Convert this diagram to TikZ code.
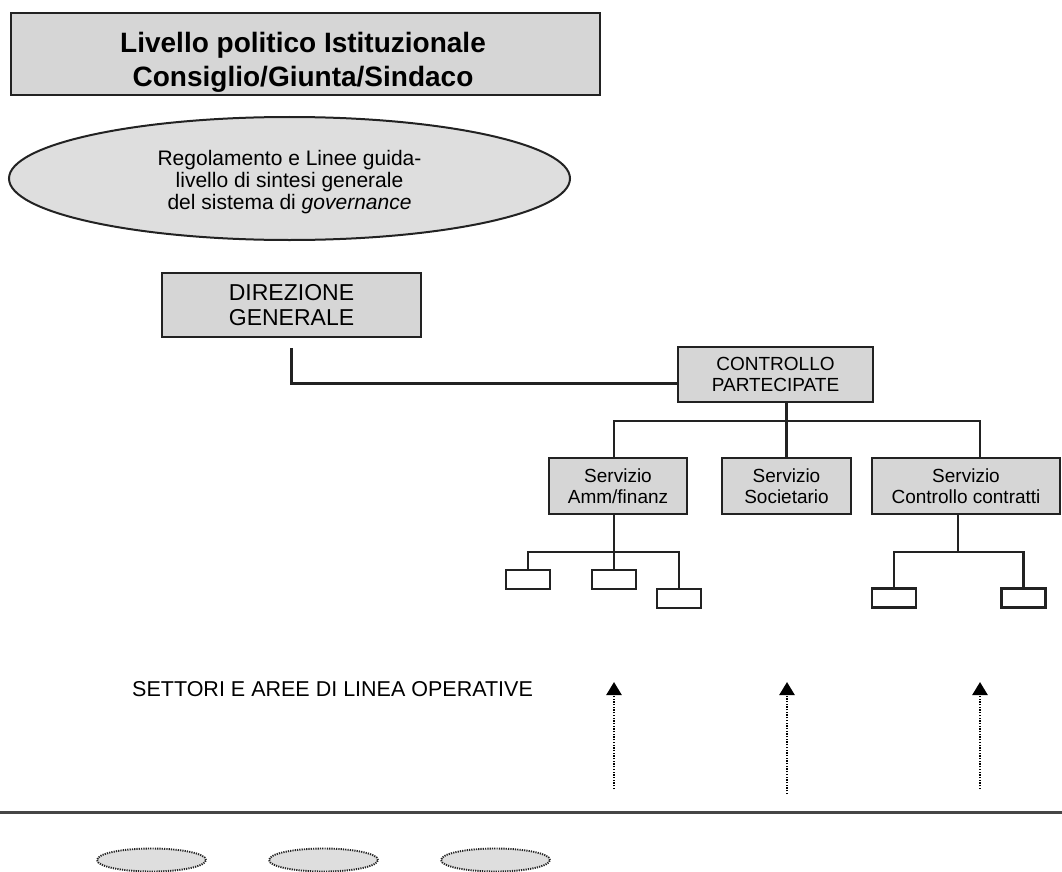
\documentclass[tikz,border=0pt]{standalone}
\usepackage{fontspec}
\setmainfont{Liberation Sans}
\usetikzlibrary{shapes.geometric,arrows.meta}
\definecolor{boxfill}{RGB}{214,214,214}
\definecolor{poolfill}{RGB}{222,222,222}
\definecolor{ink}{RGB}{34,34,34}
\definecolor{rule}{RGB}{70,70,70}
\begin{document}
\begin{tikzpicture}[x=1pt,y=-1pt,
  box/.style={draw=ink, line width=2.4pt, fill=boxfill, inner sep=0pt, align=center},
  leaf/.style={draw=ink, line width=2.2pt, fill=white, inner sep=0pt,
               minimum width=44pt, minimum height=19pt},
  wire/.style={draw=ink, line width=2.3pt},
  feed/.style={draw=black, line width=2.4pt, dash pattern=on 1.3pt off 1.4pt,
               -{Triangle[width=15pt,length=13pt]}},
  pool/.style={ellipse, draw=ink, line width=1.9pt, dash pattern=on 1.2pt off 1.1pt,
               fill=poolfill, inner sep=0pt, minimum width=109pt, minimum height=23pt},
  srvfont/.style={font=\fontsize{19pt}{21pt}\selectfont},
  ]
\useasboundingbox (0,0) rectangle (1062,872);

% political level
\node[box, minimum width=589pt, minimum height=82pt] (top) at (305.5,54) {};
\node[align=center, inner sep=0pt, font=\fontsize{28pt}{34pt}\selectfont\bfseries]
  (toptext) at (303,62) {Livello politico Istituzionale\\Consiglio/Giunta/Sindaco};

% governance guidelines
\node[ellipse, draw=ink, line width=2pt, fill=poolfill, inner sep=0pt,
      minimum width=561pt, minimum height=123pt] (guide) at (289.5,178.5) {};
\node[align=center, inner sep=0pt, font=\fontsize{21pt}{22pt}\selectfont]
  (guidetext) at (289.5,182)
  {Regolamento e Linee guida-\\livello di sintesi generale\\del sistema di \emph{governance}};

% general management
\node[box, minimum width=259pt, minimum height=64pt,
      font=\fontsize{23pt}{25pt}\selectfont] (dg) at (291.5,305) {DIREZIONE\\GENERALE};

% control unit
\node[box, minimum width=195pt, minimum height=55pt,
      font=\fontsize{19pt}{20.5pt}\selectfont] (cp) at (775.5,374.5) {CONTROLLO\\PARTECIPATE};

% services
\node[box, srvfont, minimum width=138pt, minimum height=56pt] (amm) at (618,486) {Servizio\\Amm/finanz};
\node[box, srvfont, minimum width=129pt, minimum height=56pt] (soc) at (786.5,486) {Servizio\\Societario};
\node[box, srvfont, minimum width=188pt, minimum height=56pt] (ctr) at (966,486) {Servizio\\Controllo contratti};

% sub-units
\node[leaf] (a1) at (528,579.5) {};
\node[leaf] (a2) at (614,579.5) {};
\node[leaf] (a3) at (679,598.5) {};
\node[leaf] (c1) at (894,598) {};
\node[leaf] (c2) at (1023.5,598) {};

% connectors
\draw[wire] ([yshift=-10pt]dg.south) |- ([yshift=-9pt]cp.west);
\coordinate (busL) at (614,421);
\coordinate (busR) at (980,421);
\draw[wire] (soc.north |- cp.south) -- (soc.north);
\draw[wire] (amm.north -| busL) |- (busR) -- (busR |- ctr.north);

\coordinate (abus) at (614,552);
\draw[wire] (abus |- amm.south) -- (abus);
\draw[wire] (a1.north) |- (abus) -| (a3.north);
\draw[wire] (abus) -- (a2.north);

\coordinate (cbus) at (958,552);
\draw[wire] (cbus |- ctr.south) -- (cbus);
\draw[wire] (c1.north) |- (cbus) -| (c2.north);

% operating areas
\node[anchor=base west, inner sep=0pt, font=\fontsize{21.5pt}{24pt}\selectfont]
  (ops) at (132,696) {SETTORI E AREE DI LINEA OPERATIVE};

\coordinate (f1s) at (614,789); \coordinate (f1t) at (614,682);
\coordinate (f2s) at (787,794); \coordinate (f2t) at (787,682);
\coordinate (f3s) at (980,789); \coordinate (f3t) at (980,682);
\draw[feed] (f1s) -- (f1t);
\draw[feed] (f2s) -- (f2t);
\draw[feed] (f3s) -- (f3t);

% dividing line
\coordinate (lineL) at (0,812);
\coordinate (lineR) at (1062,812);
\draw[rule, line width=3pt] (lineL) -- (lineR);

% entities below the line
\node[pool] (e1) at (151.5,860) {};
\node[pool] (e2) at (323.5,860) {};
\node[pool] (e3) at (495.5,860) {};
\end{tikzpicture}
\end{document}
